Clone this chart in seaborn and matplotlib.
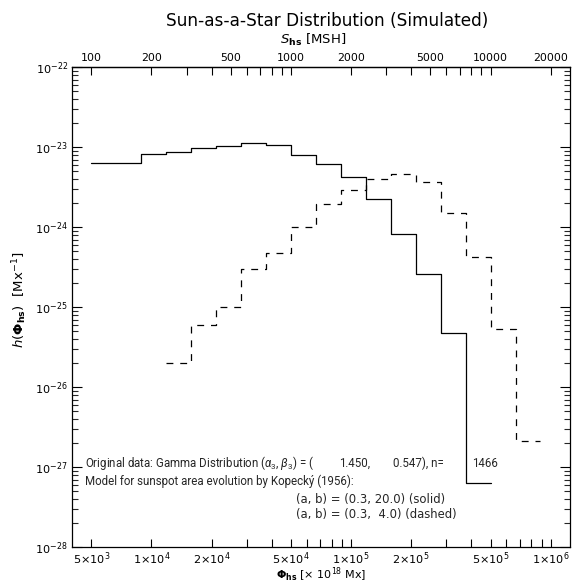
import numpy as np
import pandas as pd
import matplotlib
matplotlib.use("Agg")
import matplotlib.pyplot as plt
import seaborn as sns
from matplotlib.ticker import FixedLocator, FixedFormatter, NullFormatter

# ---------------- data ----------------
# bin edges in units of 10^18 Mx (log-spaced, 0.125 dex)
phi_edges = [5000, 6667.6, 8891.4, 11857, 15811, 21085, 28117, 37495, 50000,
             66676, 88914, 118569, 158114, 210848, 281171, 374947, 500000,
             666760, 889140]

# (a, b) = (0.3, 20.0) solid : bins 0..15
solid_h = [6.43e-24, 6.30e-24, 8.24e-24, 8.81e-24, 9.89e-24, 1.03e-23, 1.12e-23,
           1.06e-23, 7.94e-24, 6.24e-24, 4.29e-24, 2.28e-24, 8.24e-25, 2.58e-25,
           4.81e-26, 6.30e-28]
solid_start = 0

# (a, b) = (0.3, 4.0) dashed : bins 3..17
dashed_h = [2.00e-26, 5.96e-26, 1.01e-25, 3.01e-25, 4.81e-25, 1.00e-24, 1.95e-24,
            2.90e-24, 3.98e-24, 4.68e-24, 3.65e-24, 1.51e-24, 4.22e-25, 5.43e-26,
            2.14e-27]
dashed_start = 3

bottom_major = [5e3, 1e4, 2e4, 5e4, 1e5, 2e5, 5e5, 1e6]
bottom_labels = [r"5$\times$10$^{3}$", r"1$\times$10$^{4}$", r"2$\times$10$^{4}$",
                 r"5$\times$10$^{4}$", r"1$\times$10$^{5}$", r"2$\times$10$^{5}$",
                 r"5$\times$10$^{5}$", r"1$\times$10$^{6}$"]
bottom_minor = [3e4, 4e4, 6e4, 7e4, 8e4, 9e4, 3e5, 4e5, 6e5, 7e5, 8e5, 9e5]

top_major = [100, 200, 500, 1000, 2000, 5000, 10000, 20000]
top_labels = ["100", "200", "500", "1000", "2000", "5000", "10000", "20000"]
top_minor = [300, 400, 600, 700, 800, 900, 3000, 4000, 6000, 7000, 8000, 9000]

y_decades = [-28, -27, -26, -25, -24, -23, -22]

phi_per_msh = 50.0  # 100 MSH <-> 5x10^3 x 10^18 Mx


def step_frame(start, vals):
    xs = phi_edges[start:start + len(vals) + 1]
    ys = list(vals) + [vals[-1]]
    return pd.DataFrame({"phi": xs, "h": ys})


# ---------------- figure ----------------
sns.set_theme(style="ticks")
plt.rcParams["font.family"] = ["DejaVu Sans"]
plt.rcParams["mathtext.fontset"] = "dejavusans"
plt.rcParams["mathtext.rm"] = "Roboto"
plt.rcParams["mathtext.it"] = "Roboto:italic"
plt.rcParams["mathtext.bf"] = "Roboto:bold"

W, H = 577, 585
fig = plt.figure(figsize=(W / 100, H / 100), dpi=100)
fig.patch.set_facecolor("white")
ax = fig.add_axes([72 / W, 1 - 547.3 / H, 498 / W, 480 / H])
ax.set_facecolor("white")

sns.lineplot(data=step_frame(solid_start, solid_h), x="phi", y="h",
             drawstyle="steps-post", color="black", linewidth=0.9,
             estimator=None, sort=False, ax=ax)
sns.lineplot(data=step_frame(dashed_start, dashed_h), x="phi", y="h",
             drawstyle="steps-post", color="black", linewidth=0.9,
             linestyle=(0, (5.5, 5.5)), estimator=None, sort=False, ax=ax)

ax.set_xscale("log")
ax.set_yscale("log")
ax.set_xlim(4e3, 1.25e6)
ax.set_ylim(1e-28, 1e-22)

for s in ax.spines.values():
    s.set_visible(True)
    s.set_linewidth(0.9)
    s.set_color("black")

ax.xaxis.set_major_locator(FixedLocator(bottom_major))
ax.xaxis.set_major_formatter(FixedFormatter(bottom_labels))
ax.xaxis.set_minor_locator(FixedLocator(bottom_minor))
ax.xaxis.set_minor_formatter(NullFormatter())

ymaj = [10.0 ** d for d in y_decades]
ymin = [m * 10.0 ** d for d in y_decades[:-1] for m in range(2, 10)]
ax.yaxis.set_major_locator(FixedLocator(ymaj))
ax.yaxis.set_major_formatter(FixedFormatter([r"10$^{%d}$" % d for d in y_decades]))
ax.yaxis.set_minor_locator(FixedLocator(ymin))
ax.yaxis.set_minor_formatter(NullFormatter())

ax.tick_params(axis="x", which="both", direction="in", length=5.5, width=0.8,
               top=False, bottom=True, labelsize=8.1, pad=2, colors="black")
ax.tick_params(axis="y", which="major", direction="in", length=7.5, width=0.8,
               left=True, right=True, labelsize=8.1, pad=3, colors="black")
ax.tick_params(axis="y", which="minor", direction="in", length=4, width=0.8,
               left=True, right=True)

sec = ax.secondary_xaxis("top", functions=(lambda x: x / phi_per_msh,
                                           lambda s: s * phi_per_msh))
sec.xaxis.set_major_locator(FixedLocator(top_major))
sec.xaxis.set_major_formatter(FixedFormatter(top_labels))
sec.xaxis.set_minor_locator(FixedLocator(top_minor))
sec.xaxis.set_minor_formatter(NullFormatter())
sec.tick_params(axis="x", which="both", direction="in", length=5.5, width=0.8,
                labelsize=7.9, pad=3, colors="black")
sec.spines["top"].set_linewidth(0.9)

ax.set_xlabel("")
ax.set_ylabel("")

fig.text(327 / W, 1 - 21 / H, "Sun-as-a-Star Distribution (Simulated)",
         ha="center", va="center", fontsize=12.2, color="black")
fig.text(313 / W, 1 - 40 / H, r"$\mathit{S}_{\mathbf{hs}}$ [MSH]",
         ha="center", va="center", fontsize=9.5, color="black")
fig.text(321 / W, 0.5 / H, r"$\mathbf{\Phi}_{\mathbf{hs}}$ [$\times$ 10$^{18}$ Mx]",
         ha="center", va="bottom", fontsize=8.0, color="black")
fig.text(20 / W, 1 - 300 / H,
         r"$\mathbf{\mathit{h}}$($\mathbf{\Phi}_{\mathbf{hs}}$)  [Mx$^{-1}$]",
         ha="center", va="center", rotation=90, fontsize=9.6, color="black")


def axx(px):
    return (px - 72) / 498


fs = 8.3
y1, y2, y3, y4 = 0.175, 0.1367, 0.1006, 0.06875
akw = dict(transform=ax.transAxes, ha="left", va="center", fontsize=fs,
           family=["Roboto", "DejaVu Sans"], math_fontfamily="custom")
ax.text(axx(85), y1, r"Original data: Gamma Distribution ($\alpha_3$, $\beta_3$) = (", **akw)
ax.text(axx(339), y1, "1.450,", **akw)
ax.text(axx(393), y1, "0.547), n=", **akw)
ax.text(axx(472), y1, "1466", **akw)
ax.text(axx(85), y2, "Model for sunspot area evolution by Kopecký (1956):", **akw)
ax.text(axx(296), y3, "(a, b) = (0.3, 20.0) (solid)",
        transform=ax.transAxes, ha="left", va="center", fontsize=8.4)
ax.text(axx(296), y4, "(a, b) = (0.3,  4.0) (dashed)",
        transform=ax.transAxes, ha="left", va="center", fontsize=8.4)

fig.savefig("out.png", dpi=100, facecolor="white")
